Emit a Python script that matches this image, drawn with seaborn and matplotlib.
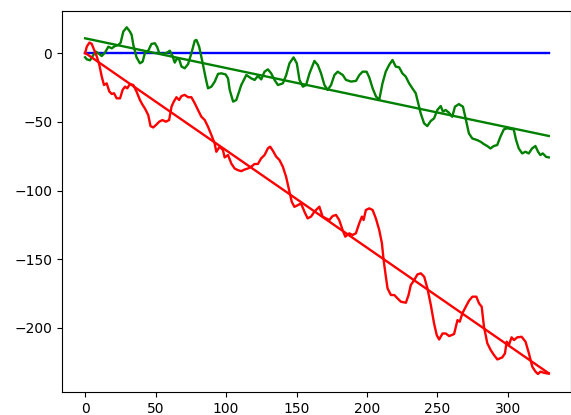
import matplotlib
matplotlib.use("Agg")
import matplotlib.pyplot as plt
import seaborn as sns
import pandas as pd

# ---- data ----
green_x = [0, 1.2, 3.5, 5.9, 7.5, 9.4, 11.8, 14.1, 16.5, 18.9, 21.2, 23.6, 25.2, 27.1, 29.5,
           31.8, 33.0, 34.2, 36.5, 38.9, 40.8, 42.4, 44.8, 47.1, 49.5, 51.2, 52.6, 55.4, 58.2,
           60.1, 62.0, 63.6, 65.3, 66.7, 68.4, 70.7, 73.1, 75.4, 77.8, 79.0, 80.9, 83.2, 85.6,
           87.2, 89.6, 92.0, 94.3, 96.7, 99.7, 101.4, 102.6, 105.0, 107.3, 110.8, 114.4, 117.9,
           120.3, 122.6, 125.0, 127.3, 129.7, 132.0, 134.4, 136.8, 140.3, 142.7, 145.0, 147.9,
           150.2, 152.1, 154.5, 156.8, 159.2, 162.7, 165.1, 167.4, 169.8, 172.1, 174.5, 176.9,
           179.2, 182.8, 185.1, 188.7, 192.2, 194.6, 196.9, 199.7, 201.6, 204.0, 206.4, 208.7,
           211.0, 213.3, 215.7, 218.1, 220.4, 222.8, 225.1, 227.5, 229.9, 232.2, 234.6, 235.8,
           238.1, 240.5, 242.8, 245.2, 247.6, 249.9, 252.3, 253.9, 255.8, 258.2, 260.5, 262.4,
           265.2, 268.1, 270.0, 272.3, 274.7, 278.2, 280.6, 282.9, 285.3, 287.6, 290.0, 292.4,
           294.7, 297.1, 299.4, 301.8, 304.1, 305.8, 307.7, 310.1, 312.4, 314.8, 317.1, 319.5,
           321.4, 323.0, 324.7, 327.1, 329.0]
green_y = [-2.9, -4.4, -5.1, -1.2, 1.2, 0.0, -2.0, 0.5, 4.8, 3.6, 5.3, 6.0, 7.7, 15.8, 18.9,
           15.8, 13.4, 6.1, -3.0, -7.3, -6.1, 0.0, 1.9, 6.8, 7.3, 4.4, 0.0, -0.5, 0.5,
           1.9, -2.0, -6.8, -3.6, -4.4, -9.7, -10.9, -7.8, 0.0, 9.2, 9.7, 4.9, -6.1, -18.3,
           -25.5, -24.3, -20.6, -15.0, -14.6, -15.4, -18.3, -26.7, -35.2, -34.0, -23.1, -15.8, -18.3,
           -19.4, -16.5, -19.0, -13.4, -11.7, -14.6, -19.4, -23.1, -21.9, -15.8, -7.3, -3.0,
           -7.3, -19.4, -24.3, -23.1, -14.6, -5.6, -8.5, -14.6, -23.1, -26.7, -23.1, -15.8,
           -13.4, -15.8, -19.4, -20.6, -20.1, -15.8, -13.4, -13.4, -17.5, -25.5, -31.5, -33.8,
           -21.9, -13.4, -8.5, -4.9, -9.7, -10.2, -14.6, -17.0, -21.9, -25.5, -29.1, -34.0,
           -43.7, -51.0, -53.0, -49.3, -47.4, -41.3, -38.4, -42.5, -41.3, -43.3, -46.2, -38.9,
           -37.0, -38.9, -47.4, -58.3, -62.0, -63.2, -64.4, -66.1, -67.5, -69.3, -67.5, -66.8,
           -60.7, -55.4, -54.6, -55.1, -55.4, -63.2, -69.3, -72.9, -71.7, -72.9, -69.3, -67.5,
           -71.7, -74.1, -72.9, -75.4, -75.8]

red_x = [0, 1.2, 3.1, 4.7, 6.4, 8.3, 10.1, 11.8, 13.4, 15.3, 17.2, 18.9, 20.5, 22.4, 24.8,
         26.6, 28.3, 29.9, 31.8, 34.2, 36.5, 38.9, 40.8, 42.4, 44.8, 46.4, 48.3, 50.2, 52.6,
         54.9, 57.3, 59.6, 61.3, 62.9, 64.8, 66.7, 68.4, 70.7, 73.1, 75.4, 77.8, 80.1, 82.5,
         84.9, 87.2, 89.6, 91.9, 93.1, 95.5, 97.8, 99.0, 101.4, 103.7, 106.1, 108.4, 110.8,
         113.2, 115.5, 117.9, 120.2, 122.6, 124.9, 127.3, 129.7, 131.3, 133.2, 135.6, 137.9,
         140.3, 142.6, 145.0, 146.6, 148.5, 150.9, 153.2, 155.6, 157.9, 160.3, 162.7, 165.0,
         166.2, 168.5, 170.9, 173.3, 175.6, 178.0, 180.3, 182.7, 184.6, 187.4, 189.8, 192.1,
         194.5, 196.4, 197.6, 199.2, 201.6, 204.0, 206.3, 208.7, 210.6, 211.8, 213.4, 214.6,
         217.0, 219.4, 221.7, 224.1, 227.6, 229.5, 231.1, 233.5, 235.8, 238.2, 240.6, 242.9,
         245.3, 247.6, 249.5, 251.2, 253.6, 255.9, 258.3, 261.8, 264.2, 265.8, 267.7, 270.1,
         272.4, 274.8, 277.6, 279.5, 281.4, 283.0, 285.4, 287.8, 290.1, 292.5, 296.0, 297.9,
         299.1, 300.7, 302.6, 304.3, 306.6, 309.7, 312.5, 314.9, 317.3, 319.6, 321.3, 323.1,
         325.5, 327.9, 329.0]
red_y = [0.0, 4.9, 7.8, 6.8, 2.4, -2.4, -8.5, -17.0, -23.1, -21.9, -27.9, -29.6, -29.1, -32.8, -32.8,
         -26.7, -24.3, -25.5, -22.4, -23.1, -27.9, -34.0, -37.6, -40.1, -45.0, -53.0, -54.0, -52.3, -49.8,
         -48.6, -49.8, -48.6, -38.9, -35.2, -32.0, -34.0, -31.1, -30.3, -32.0, -32.0, -36.4, -41.3, -46.2,
         -48.6, -53.5, -59.5, -65.6, -71.7, -68.0, -70.5, -75.8, -74.1, -80.2, -83.9, -85.1, -85.8,
         -84.6, -83.9, -82.6, -80.6, -80.6, -76.5, -74.1, -69.2, -68.0, -70.9, -75.3, -77.7,
         -82.6, -89.9, -100.8, -108.1, -111.8, -110.6, -109.3, -115.3, -120.2, -118.9, -115.3, -112.9,
         -111.7, -118.9, -120.2, -121.4, -118.5, -117.7, -121.4, -128.7, -133.5, -131.1, -132.3, -131.1,
         -123.8, -118.9, -121.4, -114.1, -112.9, -114.1, -120.2, -128.7, -138.4, -150.5, -162.7, -171.2,
         -176.0, -176.0, -178.5, -180.9, -181.6, -176.0, -168.7, -165.1, -161.0, -160.2, -162.7, -171.2,
         -183.3, -196.7, -205.2, -208.4, -204.0, -204.0, -205.9, -204.4, -194.3, -195.4, -189.3, -184.5,
         -180.1, -177.2, -177.2, -182.1, -184.5, -199.1, -211.2, -216.1, -219.7, -222.9, -221.4, -218.5,
         -210.0, -212.4, -206.8, -208.8, -206.8, -206.4, -210.0, -218.5, -228.2, -231.8, -233.5, -231.8,
         -232.6, -233.1, -233.1]

blue_x = [0, 329]
blue_y = [0.0, 0.0]

trend_x = [0, 329]
green_trend = [10.9, -60.2]
red_trend = [0.3, -233.0]

# ---- figure ----
fig = plt.figure(figsize=(5.71, 4.15), dpi=100)
ax = fig.add_axes([62 / 571, (415 - 392) / 415, 508.5 / 571, 381.3 / 415])

lw = 1.7
sns.lineplot(x=blue_x, y=blue_y, color="blue", lw=lw, ax=ax, sort=False, estimator=None)
sns.lineplot(x=green_x, y=green_y, color="green", lw=lw, ax=ax, sort=False, estimator=None)
sns.lineplot(x=trend_x, y=green_trend, color="green", lw=lw, ax=ax, sort=False, estimator=None)
sns.lineplot(x=red_x, y=red_y, color="red", lw=lw, ax=ax, sort=False, estimator=None)
sns.lineplot(x=trend_x, y=red_trend, color="red", lw=lw, ax=ax, sort=False, estimator=None)

ax.set_xlim(-16.4, 344.4)
ax.set_ylim(-246.6, 31)
ax.set_xticks([0, 50, 100, 150, 200, 250, 300])
ax.set_yticks([0, -50, -100, -150, -200])
ax.tick_params(labelsize=10)
ax.set_xlabel("")
ax.set_ylabel("")

fig.savefig("out.png", dpi=100)
